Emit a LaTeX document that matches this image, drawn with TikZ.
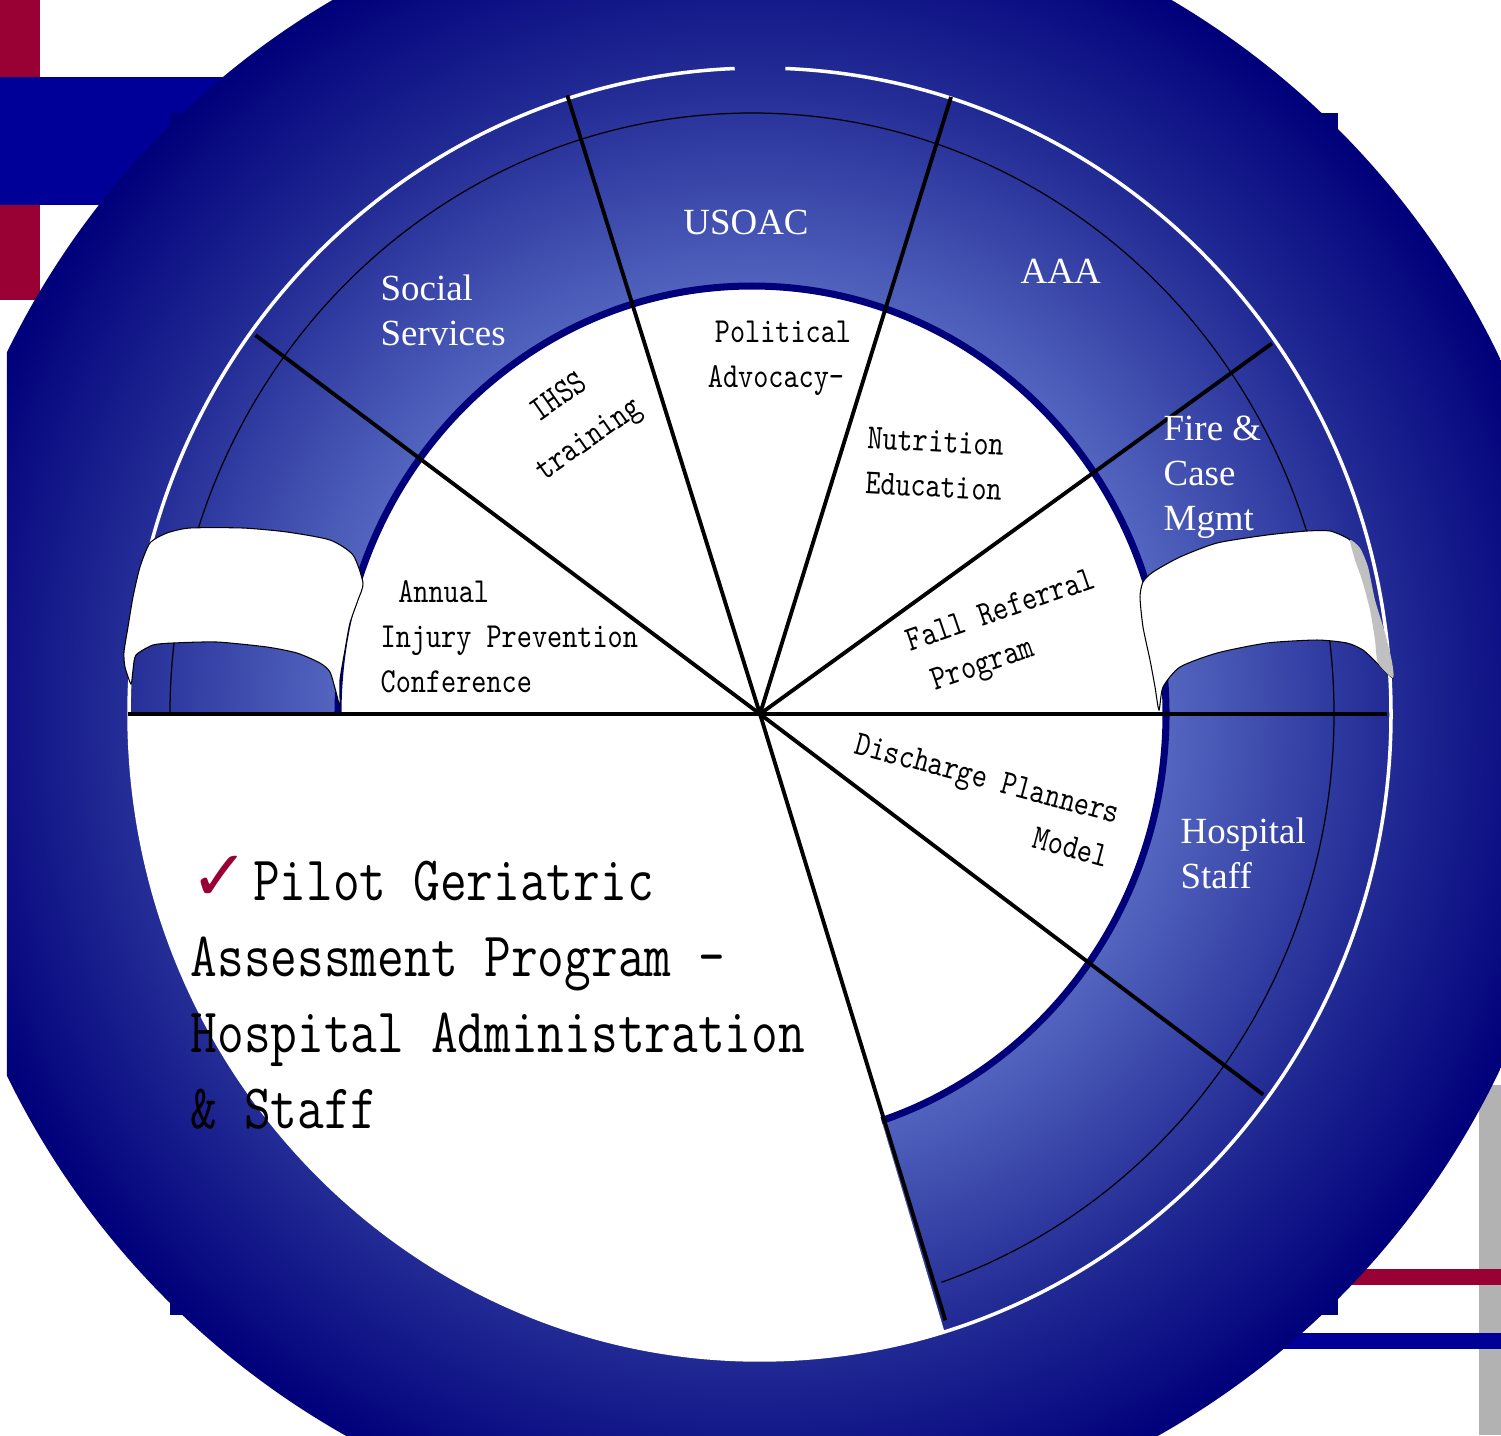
\documentclass[tikz,border=0pt]{standalone}
\usepackage{fontspec}
\setmainfont{Liberation Serif}
\newfontfamily\slidemono[FakeStretch=0.82]{Latin Modern Mono}
\newfontfamily\ticksym{DejaVu Sans}
\definecolor{crimson}{RGB}{153,0,51}
\definecolor{bandblue}{RGB}{0,0,153}
\definecolor{bargrey}{RGB}{178,178,178}
\definecolor{discnavy}{RGB}{0,0,122}
\definecolor{ringmid}{RGB}{36,45,150}
\definecolor{ringlight}{RGB}{84,102,192}
\definecolor{foldgrey}{RGB}{192,192,192}
\pgfdeclareradialshading{discshade}{\pgfpoint{0bp}{0bp}}{color(0bp)=(ringlight); color(12.5bp)=(ringlight); color(19bp)=(ringmid); color(25bp)=(discnavy); color(50bp)=(discnavy)}

\begin{document}
\begin{tikzpicture}[x=0.1mm,y=0.1mm,
  spoke/.style={line width=1.1pt,black},
  ringlabel/.style={text=white,inner sep=0pt,align=left,font=\fontsize{10.5}{12.8}\selectfont},
  slicelabel/.style={inner sep=0pt,font=\slidemono\fontsize{10}{12.8}\selectfont},
  banner/.style={fill=white,draw=black,line width=0.3pt}]
  \useasboundingbox (-760,-721) rectangle (741,714);
  % slide decorations
  \fill[bargrey] (719,-371) rectangle (741,-721);
  \fill[crimson] (-760,714) rectangle (-720,414);
  \fill[bandblue] (-760,637) rectangle (-400,509);
  \fill[crimson] (500,-555) rectangle (741,-571);
  \fill[bandblue] (450,-619) rectangle (741,-635);
  \fill[discnavy] (-590,601) rectangle (578,-601);
  % disc and ring
  \coordinate (hub) at (0,0);
  \coordinate (disc) at (-8,0);
  \begin{scope}
    \clip (-753,-721) rectangle (741,714);
    \shade[shading=discshade] (disc) circle[radius=828];
  \end{scope}
  \filldraw[fill=white,draw=discnavy,line width=2pt] (disc) ellipse[x radius=414,y radius=428];
  \fill[white] (hub) -- (-631,0) arc[start angle=180,end angle=287,x radius=631,y radius=646] -- cycle;
  \draw[black,line width=0.35pt] (-590,0) arc[start angle=180,end angle=-71,x radius=582,y radius=601];
  \draw[white,line width=1pt] (-25.3,645.5) arc[start angle=92.3,end angle=447.7,x radius=631,y radius=646];
  % spokes
  \foreach \n/\a/\l in {s1/143.1/631,s2/107.3/648,s3/72.8/646,s4/35.9/632,s6/-37.1/631,s7/-73/634}{
    \coordinate (\n) at (\a:\l);
    \draw[spoke] (hub) -- (\n);
  }
  \coordinate (w) at (-632,0);
  \coordinate (e) at (627,0);
  \draw[spoke] (w) -- (e);
  % banners
  \draw[banner] plot[smooth cycle,tension=0.4] coordinates {(-610,171) (-593,181) (-570,186) (-517,186) (-473,182) (-430,174) (-407,159) (-397,131) (-402,114) (-410,91) (-415,64) (-420,34) (-420,8) (-424,22) (-430,42) (-440,51) (-463,61) (-493,67) (-543,72) (-587,71) (-607,69) (-624,59) (-627,44) (-629,30) (-635,47) (-636,62) (-632,87) (-627,117) (-620,147)};
  \draw[banner] plot[smooth cycle,tension=0.4] coordinates {(383,132) (393,142) (420,157) (457,171) (507,179) (547,183) (570,183) (587,176) (597,167) (607,147) (613,114) (623,81) (630,54) (633,36) (617,51) (603,64) (587,71) (557,74) (507,71) (457,61) (420,47) (403,27) (399,4) (395,27) (390,54) (383,87) (380,117)};
  \fill[foldgrey] plot[smooth cycle,tension=0.4] coordinates {(590,174) (600,166) (608,147) (615,114) (625,81) (632,52) (633,36) (618,51) (615,74) (610,104) (602,134) (595,154)};
  % ring labels
  \node[ringlabel] (usoac) at (-14,492) {USOAC};
  \node[ringlabel,anchor=west] (social) at (-380,404) {Social\\Services};
  \node[ringlabel,anchor=west] (aaa) at (260,443) {AAA};
  \node[ringlabel,anchor=west] (fire) at (403,237) {Fire \&\\Case\\Mgmt};
  \node[ringlabel,anchor=west] (hospital) at (420,-139) {Hospital\\Staff};
  % slice labels
  \node[slicelabel,align=center] (political) at (16,356) {\hspace*{4pt}Political\\Advocacy-};
  \node[slicelabel,align=left,anchor=west] (annual) at (-380,77) {\hspace*{5pt}Annual\\Injury Prevention\\Conference};
  \node[slicelabel,align=center,rotate=35,font=\slidemono\fontsize{10}{14.5}\selectfont] (ihss) at (-185,294) {IHSS\\training};
  \node[slicelabel,align=center,rotate=-3] (nutrition) at (175,250) {Nutrition\\Education};
  \node[slicelabel,align=left,rotate=19] (fall) at (249,80) {Fall Referral\\\hspace*{3pt}Program};
  \node[slicelabel,align=right,rotate=-15] (discharge) at (222,-86) {Discharge Planners\\Model};
  \node[inner sep=0pt,align=left,anchor=base west,font=\slidemono\fontsize{18}{21.6}\selectfont] (pilot) at (-570,-414)
    {{\ticksym\fontsize{20}{20}\selectfont\color{crimson}✓}\hspace{1pt}Pilot Geriatric\\Assessment Program –\\Hospital Administration\\\& Staff};
\end{tikzpicture}
\end{document}
